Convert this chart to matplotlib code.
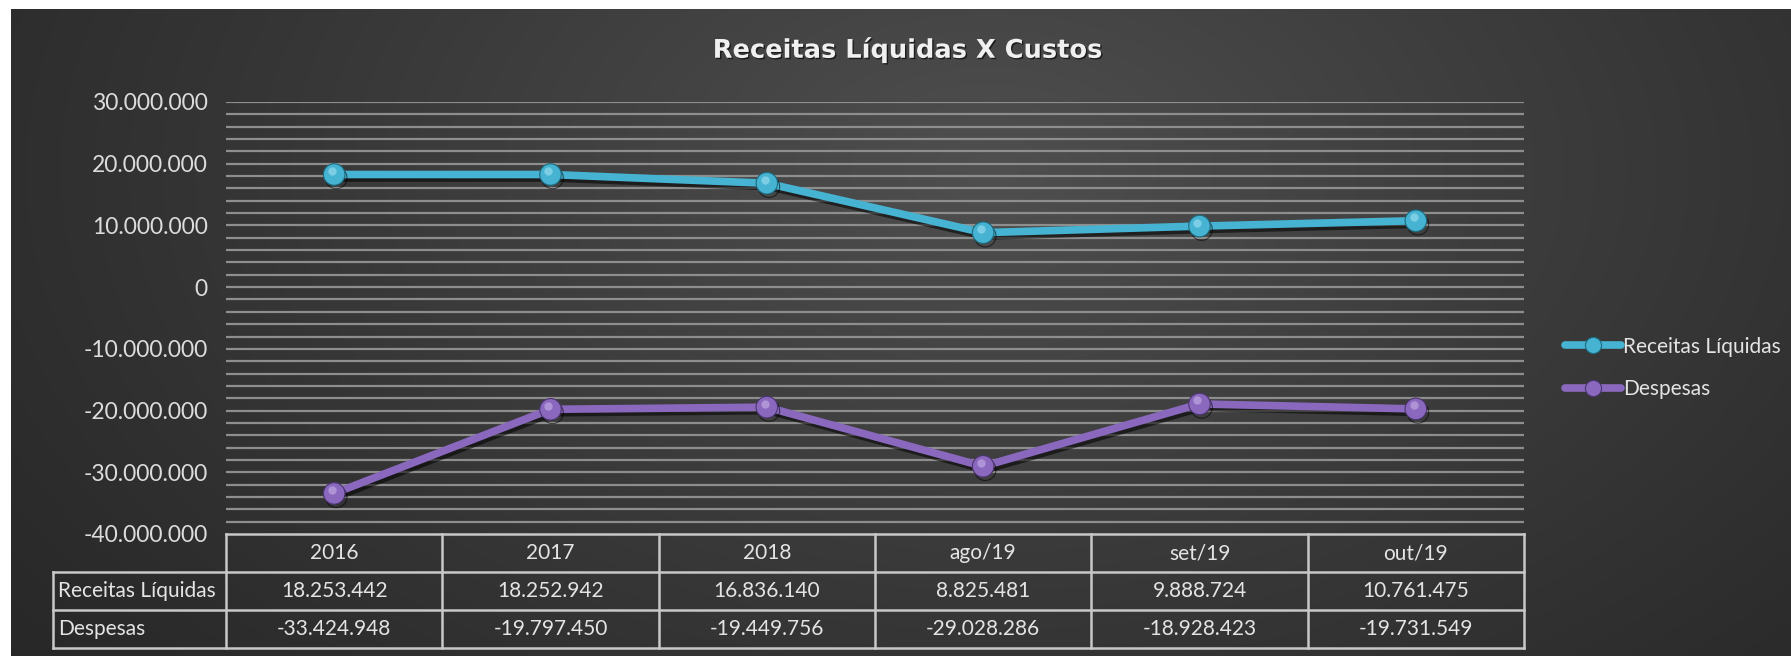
import numpy as np
import matplotlib
matplotlib.use("Agg")
import matplotlib.pyplot as plt
import matplotlib.patheffects as pe
from matplotlib.transforms import blended_transform_factory, offset_copy
from matplotlib.ticker import FuncFormatter, MultipleLocator

# ---- data ----
categories = ["2016", "2017", "2018", "ago/19", "set/19", "out/19"]
receitas = [18253442, 18252942, 16836140, 8825481, 9888724, 10761475]
despesas = [-33424948, -19797450, -19449756, -29028286, -18928423, -19731549]
series_names = ["Receitas Líquidas", "Despesas"]
title = "Receitas Líquidas X Custos"

def br(v):
    return f"{int(v):,}".replace(",", ".")

W, H = 1791, 656
fig = plt.figure(figsize=(W / 100, H / 100), dpi=100)
fig.patch.set_facecolor("white")

# background with soft radial gradient
bg = fig.add_axes([11 / W, 0, 1 - 11 / W, 1 - 9 / H], zorder=-10)
yy, xx = np.mgrid[0:1:300j, 0:1:800j]
r = np.sqrt(((xx - 0.55) / 0.75) ** 2 + ((yy - 0.25) / 1.3) ** 2)
val = np.clip(1 - r, 0, 1)
c0, c1 = 0.15, 0.31
img = c0 + (c1 - c0) * val ** 1.2
bg.imshow(np.dstack([img, img, img]), aspect="auto", extent=[0, 1, 1, 0])
bg.axis("off")

ax = fig.add_axes([226 / W, 1 - 534 / H, (1524 - 226) / W, (534 - 102) / H])
ax.patch.set_alpha(0)
x = np.arange(len(categories))
ax.set_xlim(-0.5, len(categories) - 0.5)
ax.set_ylim(-40_000_000, 30_000_000)

font = "Lato"
fs = 15
txtc = "#e4e4e4"
grid_c = "#8e8e8e"

# gridlines (major and minor)
for gv in np.arange(-38_000_000, 30_000_001, 2_000_000):
    ax.axhline(gv, color=grid_c, lw=1.6, zorder=1)

ax.yaxis.set_major_locator(MultipleLocator(10_000_000))
ax.yaxis.set_major_formatter(FuncFormatter(lambda v, p: br(v)))
ax.tick_params(axis="y", length=0, pad=13, labelsize=16.5, labelcolor="#dcdcdc")
for lab in ax.get_yticklabels():
    lab.set_fontfamily(font)
ax.set_xticks([])
for s in ax.spines.values():
    s.set_visible(False)

colors = ["#45b3d1", "#8a68bd"]
edge = ["#1d6b80", "#4b3570"]
hi = ["#a8e6f6", "#cdb8ec"]
shadow = [pe.SimpleLineShadow(offset=(1.5, -2.5), shadow_color="black", alpha=0.55), pe.Normal()]
hl_tr = offset_copy(ax.transData, fig=fig, x=-1.5, y=2.5, units="points")
handles = []
for vals, name, c, ec, hc in zip([receitas, despesas], series_names, colors, edge, hi):
    ln, = ax.plot(x, vals, color=c, lw=5.5, marker="o", ms=15.5, mfc=c, mec=ec, mew=0.8,
                  label=name, zorder=5, path_effects=shadow, solid_capstyle="round")
    ax.plot(x, vals, ls="none", marker="o", ms=6, mfc=hc, mec="none", alpha=0.55,
            zorder=6, transform=hl_tr)
    handles.append(ln)

# ---- data table ----
tr = blended_transform_factory(ax.transData, ax.transAxes)
rh = 38 / 432
xl = -0.5 - 173 * 6 / 1298
tc = "#c8c8c8"
tlw = 1.8
kw = dict(transform=tr, color=tc, lw=tlw, clip_on=False, zorder=3)
ax.plot([-0.5, 5.5], [0, 0], **kw)
for k in range(1, 4):
    ax.plot([xl, 5.5], [-k * rh, -k * rh], **kw)
for b in np.arange(-0.5, 5.6, 1.0):
    ax.plot([b, b], [0, -3 * rh], **kw)
ax.plot([xl, xl], [-rh, -3 * rh], **kw)

tkw = dict(transform=tr, color=txtc, fontsize=fs, family=font, va="center", clip_on=False)
for i, cat in enumerate(categories):
    ax.text(i, -0.5 * rh, cat, ha="center", **tkw)
    ax.text(i, -1.5 * rh, br(receitas[i]), ha="center", **tkw)
    ax.text(i, -2.5 * rh, br(despesas[i]), ha="center", **tkw)
ax.text(xl + 0.025, -1.5 * rh, series_names[0], ha="left", **tkw)
ax.text(xl + 0.025, -2.5 * rh, series_names[1], ha="left", **tkw)

# ---- title ----
fig.text(908 / W, 1 - 50 / H, title, ha="center", va="center", fontsize=18.5,
         fontweight="bold", family="DejaVu Sans", color="#f0f0f0",
         path_effects=[pe.withSimplePatchShadow(offset=(1, -1), shadow_rgbFace="black", alpha=0.6)])

# ---- legend ----
leg = fig.legend(handles, series_names, loc="center left",
                 bbox_to_anchor=(1546 / W, 1 - 368 / H), frameon=False,
                 handlelength=2.7, handletextpad=0.08, labelspacing=1.1, markerscale=0.75,
                 prop={"family": font, "size": fs})
for t in leg.get_texts():
    t.set_color(txtc)
for lh in leg.legend_handles:
    lh.set_path_effects([])

fig.savefig("out.png", dpi=100, facecolor=fig.get_facecolor())
